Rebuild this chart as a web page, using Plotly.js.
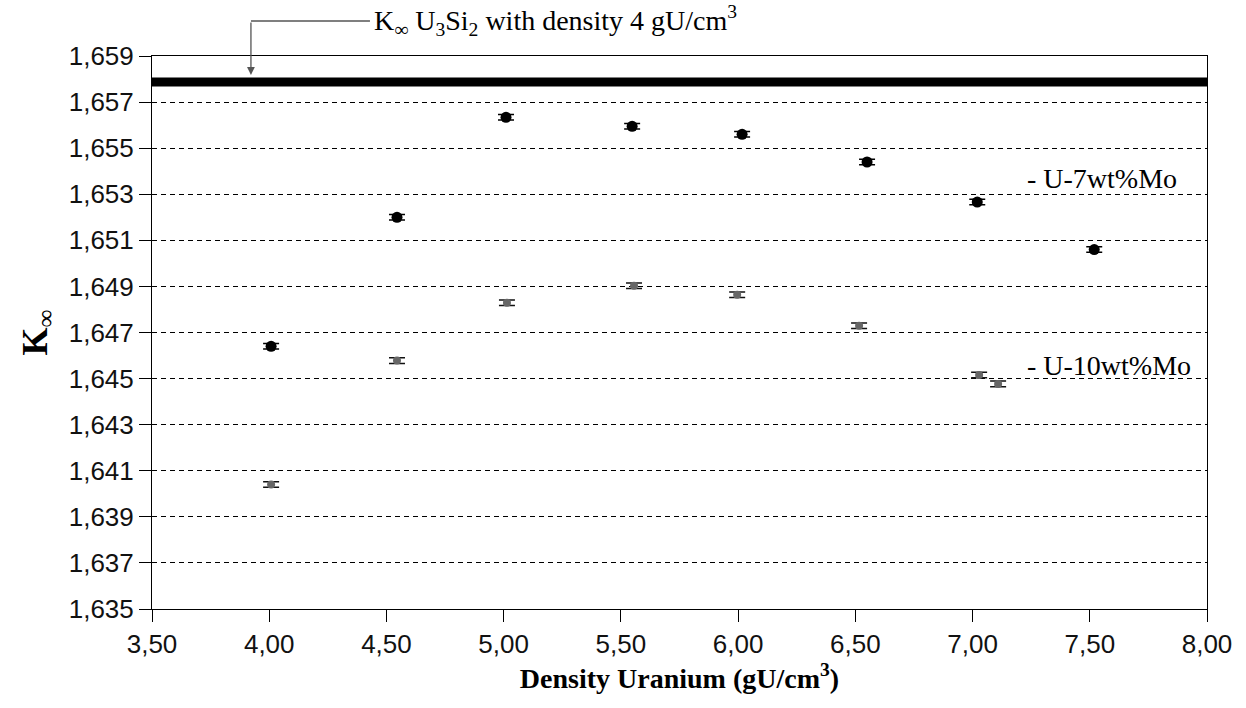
<!DOCTYPE html>
<html>
<head>
<meta charset="utf-8">
<script src="https://cdn.plot.ly/plotly-3.0.1.min.js"></script>
<style>html,body{margin:0;padding:0;background:#fff;}#chart{width:1246px;height:708px;}</style>
</head>
<body>
<div id="chart"></div>
<script>
// Data
const u7Density = [4.008, 4.545, 5.010, 5.548, 6.017, 6.550, 7.020, 7.519];
const u7K       = [1.6464, 1.6520, 1.65634, 1.65595, 1.6556, 1.6544, 1.65266, 1.6506];
const u7Err     = [0.00012, 0.00012, 0.00012, 0.00012, 0.00012, 0.00012, 0.00012, 0.00012];

const u10Density = [4.008, 4.545, 5.014, 5.556, 5.996, 6.516, 7.028, 7.109];
const u10K       = [1.6404, 1.64578, 1.64829, 1.64903, 1.64864, 1.64729, 1.64516, 1.64477];
const u10Err     = [0.00012, 0.00012, 0.00012, 0.00012, 0.00012, 0.00012, 0.00012, 0.00012];

const refDensity = [3.5, 8.0];
const refK       = [1.65787, 1.65787];

const yTicks = [1.635, 1.637, 1.639, 1.641, 1.643, 1.645, 1.647, 1.649, 1.651, 1.653, 1.655, 1.657, 1.659];
const xTicks = [3.5, 4.0, 4.5, 5.0, 5.5, 6.0, 6.5, 7.0, 7.5, 8.0];

const traces = [
  {
    x: refDensity, y: refK, type: 'scatter', mode: 'lines',
    line: {color: '#000', width: 9}, hoverinfo: 'skip'
  },
  {
    x: u10Density, y: u10K, type: 'scatter', mode: 'markers',
    marker: {color: '#666', size: 8},
    error_y: {type: 'data', array: u10Err, visible: true, color: '#111', thickness: 1.5, width: 8}
  },
  {
    x: u7Density, y: u7K, type: 'scatter', mode: 'markers',
    marker: {color: '#000', size: 11},
    error_y: {type: 'data', array: u7Err, visible: true, color: '#000', thickness: 1.5, width: 8}
  }
];

const serif = 'Liberation Serif, Times New Roman, serif';
const sans = 'Liberation Sans, Arial, sans-serif';

const layout = {
  width: 1246, height: 708,
  margin: {l: 152, r: 39, t: 56, b: 99},
  paper_bgcolor: '#fff', plot_bgcolor: '#fff',
  showlegend: false,
  separators: ',.',
  xaxis: {
    range: [3.5, 8.0], tickvals: xTicks, tickformat: '.2f',
    showgrid: false, zeroline: false,
    showline: true, linecolor: '#000', linewidth: 1, mirror: true,
    ticks: 'outside', ticklen: 12, tickcolor: '#000',
    tickfont: {family: sans, size: 26, color: '#111'},
    title: {text: '<b>Density Uranium (gU/cm<sup>3</sup>)</b>', font: {family: serif, size: 28, color: '#000'}, standoff: 6}
  },
  yaxis: {
    range: [1.635, 1.659], tickvals: yTicks, tickformat: '.3f',
    showgrid: true, gridcolor: '#000', gridwidth: 1, griddash: '5px,4px',
    zeroline: false,
    showline: true, linecolor: '#000', linewidth: 1, mirror: true,
    ticks: 'outside', ticklen: 12, tickcolor: '#000',
    tickfont: {family: sans, size: 26, color: '#111'},
    title: {text: '<b>K</b><sub>∞</sub>', font: {family: serif, size: 36, color: '#000'}, standoff: 10}
  },
  annotations: [
    {
      xref: 'x', yref: 'y', x: 3.922, y: 1.65818,
      ax: 0, ay: -54, axref: 'pixel', ayref: 'pixel',
      showarrow: true, arrowhead: 2, arrowsize: 1.2, arrowwidth: 1.3, arrowcolor: '#555', text: ''
    },
    {
      xref: 'paper', yref: 'paper', x: 0.2085, y: 1.0633, xanchor: 'left', yanchor: 'middle',
      showarrow: false,
      text: 'K<sub>∞</sub> U<sub>3</sub>Si<sub>2</sub> with density 4 gU/cm<sup>3</sup>',
      font: {family: serif, size: 28, color: '#000'}
    },
    {
      xref: 'x', yref: 'y', x: 7.224, y: 1.6537, xanchor: 'left', yanchor: 'middle',
      showarrow: false, text: '- U-7wt%Mo',
      font: {family: serif, size: 28, color: '#000'}
    },
    {
      xref: 'x', yref: 'y', x: 7.224, y: 1.64557, xanchor: 'left', yanchor: 'middle',
      showarrow: false, text: '- U-10wt%Mo',
      font: {family: serif, size: 28, color: '#000'}
    }
  ],
  shapes: [
    {type: 'line', xref: 'paper', yref: 'paper', x0: 0.0938, x1: 0.2066, y0: 1.0633, y1: 1.0633,
     line: {color: '#555', width: 1.3}}
  ]
};

Plotly.newPlot('chart', traces, layout, {staticPlot: true, displayModeBar: false});
</script>
</body>
</html>
